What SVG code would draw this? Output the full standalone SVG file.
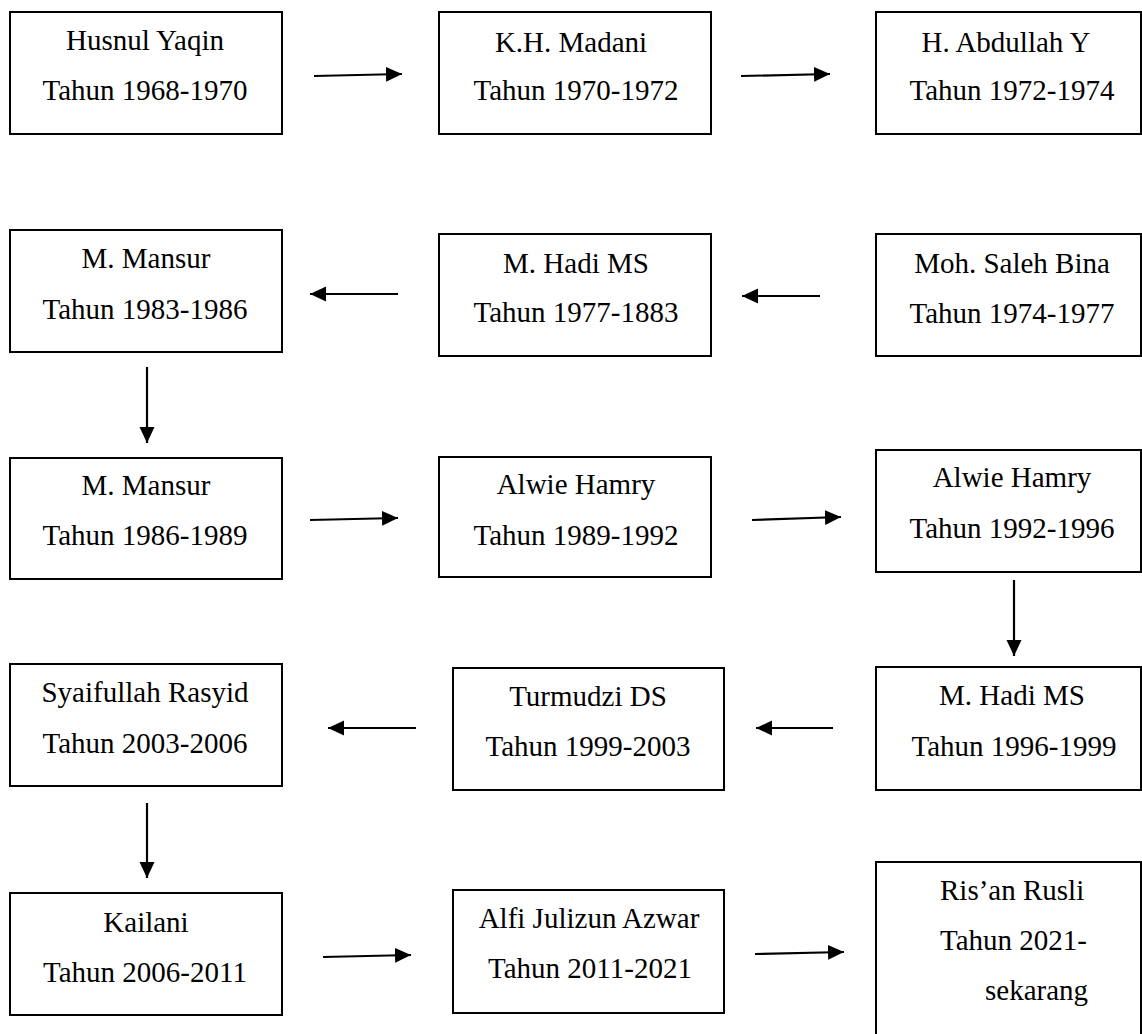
<svg xmlns="http://www.w3.org/2000/svg" width="1142" height="1034" viewBox="0 0 1142 1034">
<style>
.box{fill:#fff;stroke:#000;stroke-width:2}
.t{font-family:"Liberation Serif","Times New Roman",serif;font-size:29px;fill:#000;text-anchor:middle}
.ts{font-family:"Liberation Serif","Times New Roman",serif;font-size:29px;fill:#000;text-anchor:start}
.c{stroke:#000;stroke-width:2.2;fill:none;marker-end:url(#ah)}
</style>
<defs>
<marker id="ah" markerUnits="userSpaceOnUse" markerWidth="17" markerHeight="16" refX="16" refY="7.5" orient="auto" viewBox="0 0 17 16">
<path d="M0,0 L16,7.5 L0,15 z" fill="#000"/>
</marker>
</defs>
<rect width="1142" height="1034" fill="#fff"/>
<g id="n1"><rect class="box" x="10" y="12" width="272" height="122"/><text class="t" x="145" y="50">Husnul Yaqin</text><text class="t" x="145" y="100">Tahun 1968-1970</text></g>
<g id="n2"><rect class="box" x="439" y="12" width="272" height="122"/><text class="t" x="571" y="52">K.H. Madani</text><text class="t" x="576" y="100">Tahun 1970-1972</text></g>
<g id="n3"><rect class="box" x="876" y="12" width="265" height="122"/><text class="t" x="1006" y="52">H. Abdullah Y</text><text class="t" x="1012" y="100">Tahun 1972-1974</text></g>
<g id="n4"><rect class="box" x="10" y="230" width="272" height="122"/><text class="t" x="146" y="268">M. Mansur</text><text class="t" x="145" y="319">Tahun 1983-1986</text></g>
<g id="n5"><rect class="box" x="439" y="234" width="272" height="122"/><text class="t" x="576" y="273">M. Hadi MS</text><text class="t" x="576" y="322">Tahun 1977-1883</text></g>
<g id="n6"><rect class="box" x="876" y="234" width="265" height="122"/><text class="t" x="1012" y="273">Moh. Saleh Bina</text><text class="t" x="1012" y="323">Tahun 1974-1977</text></g>
<g id="n7"><rect class="box" x="10" y="458" width="272" height="121"/><text class="t" x="146" y="495">M. Mansur</text><text class="t" x="145" y="545">Tahun 1986-1989</text></g>
<g id="n8"><rect class="box" x="439" y="457" width="272" height="120"/><text class="t" x="576" y="494">Alwie Hamry</text><text class="t" x="576" y="545">Tahun 1989-1992</text></g>
<g id="n9"><rect class="box" x="876" y="450" width="265" height="122"/><text class="t" x="1012" y="487">Alwie Hamry</text><text class="t" x="1012" y="538">Tahun 1992-1996</text></g>
<g id="n10"><rect class="box" x="10" y="664" width="272" height="122"/><text class="t" x="145" y="702">Syaifullah Rasyid</text><text class="t" x="145" y="753">Tahun 2003-2006</text></g>
<g id="n11"><rect class="box" x="453" y="668" width="271" height="122"/><text class="t" x="588" y="706">Turmudzi DS</text><text class="t" x="588" y="756">Tahun 1999-2003</text></g>
<g id="n12"><rect class="box" x="876" y="667" width="265" height="123"/><text class="t" x="1012" y="705">M. Hadi MS</text><text class="t" x="1014" y="756">Tahun 1996-1999</text></g>
<g id="n13"><rect class="box" x="10" y="893" width="272" height="122"/><text class="t" x="146" y="932">Kailani</text><text class="t" x="145" y="982">Tahun 2006-2011</text></g>
<g id="n14"><rect class="box" x="453" y="890" width="271" height="123"/><text class="t" x="589" y="928">Alfi Julizun Azwar</text><text class="t" x="590" y="978">Tahun 2011-2021</text></g>
<g id="n15"><rect class="box" x="876" y="862" width="265" height="180"/><text class="ts" x="940" y="900">Ris’an Rusli</text><text class="ts" x="940" y="950">Tahun 2021-</text><text class="ts" x="985" y="1000">sekarang</text></g>
<g id="connectors">
<line class="c" x1="314" y1="76" x2="402" y2="74"/>
<line class="c" x1="741" y1="76" x2="830" y2="74"/>
<line class="c" x1="398" y1="294" x2="310" y2="294"/>
<line class="c" x1="820" y1="296" x2="742" y2="296"/>
<line class="c" x1="147" y1="367" x2="147" y2="443"/>
<line class="c" x1="310" y1="520" x2="398" y2="518"/>
<line class="c" x1="752" y1="520" x2="841" y2="517"/>
<line class="c" x1="1014" y1="580" x2="1014" y2="656"/>
<line class="c" x1="833" y1="728" x2="756" y2="728"/>
<line class="c" x1="416" y1="728" x2="328" y2="728"/>
<line class="c" x1="147" y1="803" x2="147" y2="878"/>
<line class="c" x1="323" y1="957" x2="411" y2="955"/>
<line class="c" x1="755" y1="954" x2="844" y2="952"/>
</g>
</svg>
